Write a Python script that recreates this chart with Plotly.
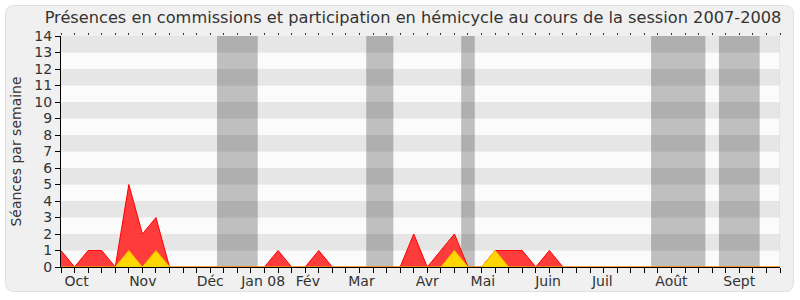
import plotly.graph_objects as go

# ---- data ----
weeks = list(range(54))
hemicycle = [1, 0, 1, 1, 0, 5, 2, 3, 0, 0, 0, 0, 0, 0, 0, 0, 1, 0, 0, 1,
             0, 0, 0, 0, 0, 0, 2, 0, 1, 2, 0, 0, 1, 1, 1, 0, 1, 0, 0, 0,
             0, 0, 0, 0, 0, 0, 0, 0, 0, 0, 0, 0, 0, 0]
commissions = [0, 0, 0, 0, 0, 1, 0, 1, 0, 0, 0, 0, 0, 0, 0, 0, 0, 0, 0, 0,
               0, 0, 0, 0, 0, 0, 0, 0, 0, 1, 0, 0, 1, 0, 0, 0, 0, 0, 0, 0,
               0, 0, 0, 0, 0, 0, 0, 0, 0, 0, 0, 0, 0, 0]
month_labels = ["Oct", "Nov", "Déc", "Jan 08", "Fév", "Mar", "Avr", "Mai",
                "Juin", "Juil", "Août", "Sept"]
month_pos = [1.15, 6.03, 11.0, 14.9, 18.2, 22.15, 27.0, 31.1, 35.9, 39.9, 45.0, 50.0]
vacations = [(11.5, 14.5), (22.5, 24.5), (29.5, 30.5), (43.5, 47.5), (48.5, 51.5)]
y_max = 14

# ---- layout geometry (px) ----
W, H = 800, 300
L, R, T, B = 61, 20, 36, 33
pw, ph = W - L - R, H - T - B

def px2paper(px, py):
    return (px - L) / pw, (H - B - py) / ph

def rounded_rect(x0, y0, x1, y1, r):
    def P(x, y):
        a, b = px2paper(x, y)
        return f"{a:.5f},{b:.5f}"
    return (f"M {P(x0 + r, y0)} L {P(x1 - r, y0)} Q {P(x1, y0)} {P(x1, y0 + r)} "
            f"L {P(x1, y1 - r)} Q {P(x1, y1)} {P(x1 - r, y1)} "
            f"L {P(x0 + r, y1)} Q {P(x0, y1)} {P(x0, y1 - r)} "
            f"L {P(x0, y0 + r)} Q {P(x0, y0)} {P(x0 + r, y0)} Z")

shapes = []
shapes.append(dict(type="path", xref="paper", yref="paper",
                   path=rounded_rect(5.5, 5.5, 793.5, 291.5, 9),
                   fillcolor="#f0f0f0", line=dict(color="#e0e0e0", width=1),
                   layer="below"))
for i in range(y_max):
    shapes.append(dict(type="rect", xref="x", yref="y", x0=0, x1=53, y0=i, y1=i + 1,
                       fillcolor="#e6e6e6" if i % 2 == 1 else "#fbfbfb",
                       line=dict(width=0), layer="below"))
for a, b in vacations:
    shapes.append(dict(type="rect", xref="x", yref="y", x0=a, x1=b, y0=0, y1=y_max,
                       fillcolor="rgba(0,0,0,0.24)", line=dict(width=0), layer="below"))
shapes.append(dict(type="line", xref="x", yref="y", x0=53, x1=53, y0=0, y1=y_max,
                   line=dict(color="#d8d8d8", width=1), layer="below"))

fig = go.Figure()
fig.add_trace(go.Scatter(x=weeks, y=hemicycle, mode="lines", fill="tozeroy",
                         line=dict(color="#ff0000", width=1), fillcolor="#ff3c3c",
                         hoverinfo="skip", showlegend=False))
fig.add_trace(go.Scatter(x=weeks, y=commissions, mode="lines", fill="tozeroy",
                         line=dict(color="#f5c000", width=1), fillcolor="#ffd700",
                         hoverinfo="skip", showlegend=False))
fig.add_trace(go.Scatter(x=[], y=[], xaxis="x2", yaxis="y", showlegend=False))

FONT = "DejaVu Sans"
TXT = "#333333"
fig.update_layout(
    width=W, height=H,
    margin=dict(l=L, r=R, t=T, b=B, pad=0),
    paper_bgcolor="white", plot_bgcolor="rgba(0,0,0,0)",
    shapes=shapes,
    font=dict(family=FONT, size=14, color=TXT),
    title=dict(text="Présences en commissions et participation en hémicycle au cours de la session 2007-2008",
               font=dict(family=FONT, size=16.2, color=TXT),
               x=(413 - L) / pw, xref="paper", xanchor="center",
               y=1 - 17 / H, yref="container", yanchor="middle"),
    xaxis=dict(range=[0, 53], showgrid=False, zeroline=False,
               showline=True, linecolor="#000000", linewidth=1,
               tickmode="array", tickvals=month_pos, ticktext=month_labels,
               ticks="", ticklen=0, ticklabelstandoff=1,
               tickfont=dict(family=FONT, size=14, color=TXT),
               minor=dict(tickmode="array", tickvals=weeks, ticks="outside",
                          ticklen=5, tickwidth=1, tickcolor="#000000", showgrid=False)),
    xaxis2=dict(range=[0, 53], overlaying="x", side="top", showgrid=False,
                zeroline=False, showline=False, showticklabels=False,
                tickmode="array", tickvals=weeks, ticks="outside", ticklen=2,
                tickwidth=1, tickcolor="#333333"),
    yaxis=dict(range=[0, y_max], showgrid=False, zeroline=False,
               showline=True, linecolor="#000000", linewidth=1,
               tickmode="array", tickvals=list(range(y_max + 1)),
               ticks="outside", ticklen=5, tickcolor="#000000",
               tickfont=dict(family=FONT, size=14, color=TXT),
               title=dict(text="Séances par semaine", standoff=9,
                          font=dict(family=FONT, size=14, color=TXT))),
)

fig.write_html("out.html")
